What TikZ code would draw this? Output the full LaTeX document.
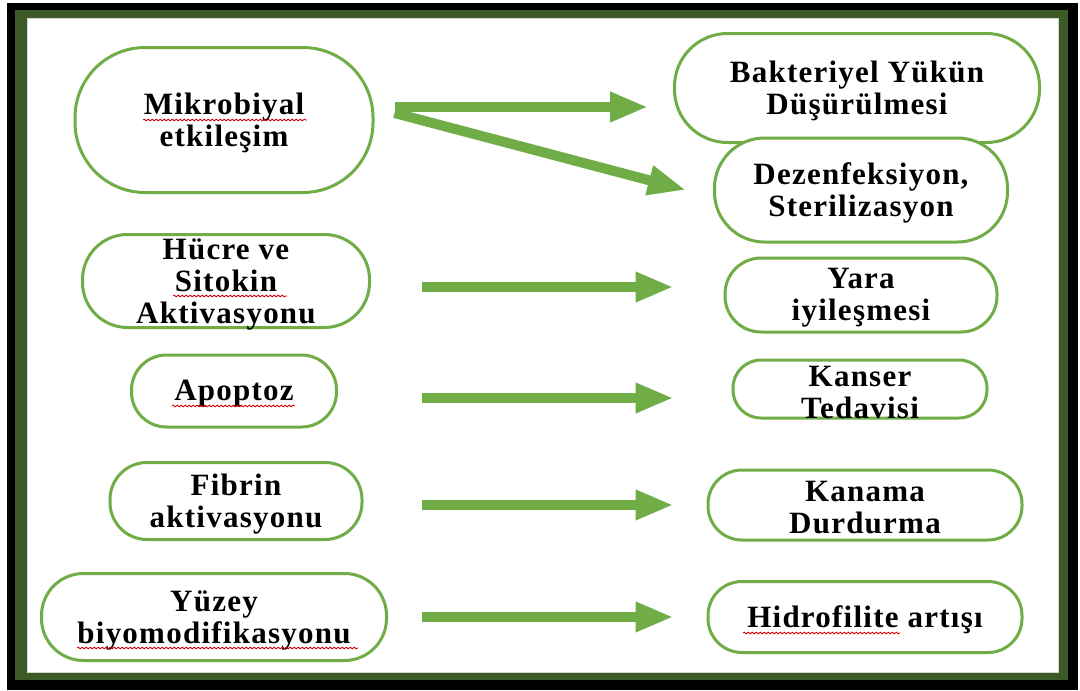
\documentclass[tikz,border=0pt]{standalone}
\usepackage{fontspec}
\setmainfont{Liberation Serif}
\usetikzlibrary{arrows.meta,calc,decorations.pathmorphing}
\definecolor{lg}{HTML}{70AD47}
\definecolor{dkg}{HTML}{3B5A25}
\begin{document}
\begin{tikzpicture}[x=1pt,y=-1pt,
  pill/.style n args={3}{draw=lg, line width=3, fill=white, rounded corners=#3,
     minimum width=#1, minimum height=#2, inner sep=0pt},
  txt/.style={align=center, text=black, yshift=-3pt,
     font=\bfseries\fontsize{31}{32}\selectfont\addfontfeature{LetterSpace=4}},
  arr/.style={draw=lg, line width=10, -{Triangle[length=38pt,width=28pt]}},
  wavy/.style={draw=red!85!black, line width=0.8,
     decorate, decoration={snake, segment length=4pt, amplitude=0.9pt}}]
\useasboundingbox (0,0) rectangle (1080,691);
\fill[white] (0,0) rectangle (1080,691);
% frame
\fill[black] (7,3) rectangle (1078,690);
\fill[dkg] (15,10) rectangle (1068,680);
\fill[white] (27,18) rectangle (1058,672);
\draw[gray!35, line width=1] (27,18) rectangle (1058,672);
% left nodes
\node[pill={298}{145}{70}, label={[txt]center:{Mikrobiyal\\etkileşim}}] (mik) at (224,120) {};
\node[pill={287}{93}{45}, label={[txt]center:{Hücre ve\\Sitokin\\Aktivasyonu}}] (huc) at (226,281) {};
\node[pill={205}{72}{35}, label={[txt]center:{Apoptoz}}] (apo) at (234,391) {};
\node[pill={252}{77}{37}, label={[txt]center:{Fibrin\\aktivasyonu}}] (fib) at (236,501) {};
\node[pill={345}{87}{42}, label={[txt]center:{Yüzey\\biyomodifikasyonu}}] (yuz) at (214,617) {};
% right nodes
\node[pill={365}{109}{53}, label={[txt]center:{Bakteriyel Yükün\\Düşürülmesi}}] (bak) at (857,88) {};
\node[pill={293}{104}{50}, label={[txt]center:{Dezenfeksiyon,\\Sterilizasyon}}] (dez) at (861,190) {};
\node[pill={272}{74}{36}, label={[txt]center:{Yara\\iyileşmesi}}] (yara) at (861,295) {};
\node[pill={254}{58}{28}, label={[txt]center:{Kanser\\Tedavisi}}] (kan) at (860,389) {};
\node[pill={314}{70}{34}, label={[txt]center:{Kanama\\Durdurma}}] (kana) at (865,505) {};
\node[pill={314}{71}{34}, label={[txt]center:{Hidrofilite artışı}}] (hid) at (865,617) {};
% arrows
\draw[arr] ($(mik.east)+(20,-13)$) -- ($(bak.west)+(-25,19)$);
\draw[arr] ($(mik.east)+(20,-7)$) -- ($(dez.west)+(-27,0)$);
\draw[arr] ($(huc.east)+(50.5,6)$) -- ($(yara.west)+(-50,-8)$);
\draw[arr] ($(apo.east)+(83.5,7)$) -- ($(kan.west)+(-58,9)$);
\draw[arr] ($(fib.east)+(58,4)$) -- ($(kana.west)+(-33,0)$);
\draw[arr] ($(yuz.east)+(33.5,0)$) -- ($(hid.west)+(-33,0)$);
% spell-check underlines
\draw[wavy] (143,120) -- (307,120);
\draw[wavy] (173,296) -- (287,296);
\draw[wavy] (172,406) -- (295,406);
\draw[wavy] (77,648) -- (358,648);
\draw[wavy] (743,633) -- (900,633);
\end{tikzpicture}
\end{document}
